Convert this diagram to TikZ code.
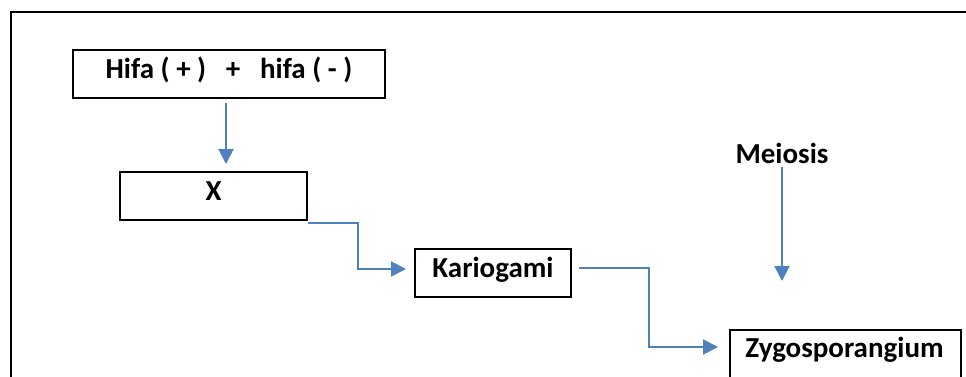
\documentclass[tikz,border=0pt]{standalone}
\usepackage{fontspec}
\setmainfont{Carlito}
\usetikzlibrary{arrows.meta}
\definecolor{arrblue}{HTML}{4F81BD}
\tikzset{
  box/.style={draw=black, line width=2pt, inner sep=0pt, text height=18pt, text depth=10pt,
    font=\bfseries\fontsize{29}{33}\selectfont},
  lbl/.style={inner sep=0pt, text height=18pt, text depth=10pt, font=\bfseries\fontsize{29}{33}\selectfont},
  arr/.style={draw=arrblue, line width=2pt, -{Triangle[length=15pt,width=15pt]}},
  frame/.style={draw=black, line width=2.2pt}
}
\begin{document}
\begin{tikzpicture}[x=1pt,y=-1pt]
\useasboundingbox (0,0) rectangle (966,376);
\clip (0,0) rectangle (966,376);
\draw[frame] (11,390) -- (11,12) -- (980,12);
\node[box, minimum width=312pt, minimum height=48pt] (b1) at (229,74) {Hifa ( + ) \ \ + \ \ hifa ( - )};
\node[box, minimum width=187pt, minimum height=48pt] (x) at (213.5,196) {X};
\node[box, minimum width=156pt, minimum height=48pt] (k) at (493,273) {Kariogami};
\node[box, minimum width=231pt, minimum height=56pt, anchor=north west] (z) at (729,329) {};
\node[lbl] (zt) at (844.5,353) {Zygosporangium};
\node[lbl] (m) at (782,159) {Meiosis};
\coordinate (mend) at (782,281);
\draw[arr] ([shift={(-3,4)}]b1.south) -- ([shift={(-3,0)}]b1.south |- x.north) [shorten >=7pt];
\draw[arr] ([shift={(0,2)}]x.south east) -- ++(50,0) |- ([shift={(-8,-4)}]k.west);
\draw[arr] ([shift={(7,-5)}]k.east) -- ++(70,0) |- ([shift={(-11,18)}]z.north west);
\draw[arr] ([shift={(0,-6)}]m.south) -- (mend);
\end{tikzpicture}
\end{document}
